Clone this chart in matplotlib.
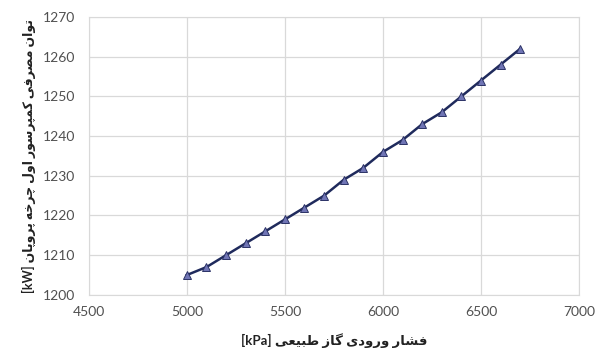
import numpy as np
import matplotlib
matplotlib.use('Agg')
import matplotlib.pyplot as plt

# data
pressure = [5000, 5100, 5200, 5300, 5400, 5500, 5600, 5700, 5800,
            5900, 6000, 6100, 6200, 6300, 6400, 6500, 6600, 6700]
power = [1205, 1207, 1210, 1213, 1216, 1219, 1222, 1225, 1229,
         1232, 1236, 1239, 1243, 1246, 1250, 1254, 1258, 1262]

x_ticks = [4500, 5000, 5500, 6000, 6500, 7000]
y_ticks = [1200, 1210, 1220, 1230, 1240, 1250, 1260, 1270]

x_label_fa = 'فشار ورودی گاز طبیعی'
x_label_unit = '[kPa]'
y_label_fa = 'توان مصرفی کمپرسور اول چرخه پروپان'
y_label_unit = '[kW]'

# presentation forms: isolated, final, initial, medial
FORMS = {
    'ا': (0xFE8D, 0xFE8E), 'د': (0xFEA9, 0xFEAA), 'ر': (0xFEAD, 0xFEAE),
    'ز': (0xFEAF, 0xFEB0), 'و': (0xFEED, 0xFEEE),
    'ب': (0xFE8F, 0xFE90, 0xFE91, 0xFE92), 'پ': (0xFB56, 0xFB57, 0xFB58, 0xFB59),
    'ت': (0xFE95, 0xFE96, 0xFE97, 0xFE98), 'چ': (0xFB7A, 0xFB7B, 0xFB7C, 0xFB7D),
    'خ': (0xFEA5, 0xFEA6, 0xFEA7, 0xFEA8), 'س': (0xFEB1, 0xFEB2, 0xFEB3, 0xFEB4),
    'ش': (0xFEB5, 0xFEB6, 0xFEB7, 0xFEB8), 'ص': (0xFEB9, 0xFEBA, 0xFEBB, 0xFEBC),
    'ط': (0xFEC1, 0xFEC2, 0xFEC3, 0xFEC4), 'ع': (0xFEC9, 0xFECA, 0xFECB, 0xFECC),
    'ف': (0xFED1, 0xFED2, 0xFED3, 0xFED4), 'ک': (0xFB8E, 0xFB8F, 0xFB90, 0xFB91),
    'گ': (0xFB92, 0xFB93, 0xFB94, 0xFB95), 'ل': (0xFEDD, 0xFEDE, 0xFEDF, 0xFEE0),
    'م': (0xFEE1, 0xFEE2, 0xFEE3, 0xFEE4), 'ن': (0xFEE5, 0xFEE6, 0xFEE7, 0xFEE8),
    'ه': (0xFEE9, 0xFEEA, 0xFEEB, 0xFEEC), 'ی': (0xFBFC, 0xFBFD, 0xFBFE, 0xFBFF),
}


def shape_rtl(text):
    """Join Persian letters by hand and put them in visual (LTR) order"""
    out = []
    for i, ch in enumerate(text):
        if ch not in FORMS:
            out.append(ch)
            continue
        prev = text[i - 1] if i > 0 else ''
        nxt = text[i + 1] if i + 1 < len(text) else ''
        joins_prev = prev in FORMS and len(FORMS[prev]) == 4
        joins_next = len(FORMS[ch]) == 4 and nxt in FORMS
        f = FORMS[ch]
        if joins_prev and joins_next:
            code = f[3]
        elif joins_prev:
            code = f[1]
        elif joins_next:
            code = f[2]
        else:
            code = f[0]
        out.append(chr(code))
    return ''.join(reversed(out))


plt.rcParams['font.family'] = ['Lato', 'DejaVu Sans']

fig = plt.figure(figsize=(6, 3.54), dpi=100)
ax = fig.add_axes([0.148, 0.167, 0.817, 0.785])

ax.plot(pressure, power, '-', color='#1f2a5c', linewidth=1.8, zorder=3)
ax.plot(pressure, power, '^', markersize=6, markerfacecolor='#7075b5',
        markeredgecolor='#2b3266', markeredgewidth=0.7, linestyle='none', zorder=4)

ax.set_xlim(4500, 7000)
ax.set_ylim(1200, 1270)
ax.set_xticks(x_ticks)
ax.set_yticks(y_ticks)
ax.tick_params(length=0, labelsize=10, colors='#505050')
ax.tick_params(axis='x', pad=8)
ax.tick_params(axis='y', pad=10)
ax.grid(True, color='#d9d9d9', linewidth=0.9)
ax.set_axisbelow(True)
for s in ax.spines.values():
    s.set_color('#d9d9d9')

ax.set_xlabel(x_label_unit + ' ' + shape_rtl(x_label_fa), fontsize=9.5,
              fontweight='bold', color='#222222', labelpad=11)
ax.set_ylabel(y_label_unit + ' ' + shape_rtl(y_label_fa), fontsize=9,
              fontweight='bold', color='#222222', labelpad=5)

fig.savefig('out.png', dpi=100)
